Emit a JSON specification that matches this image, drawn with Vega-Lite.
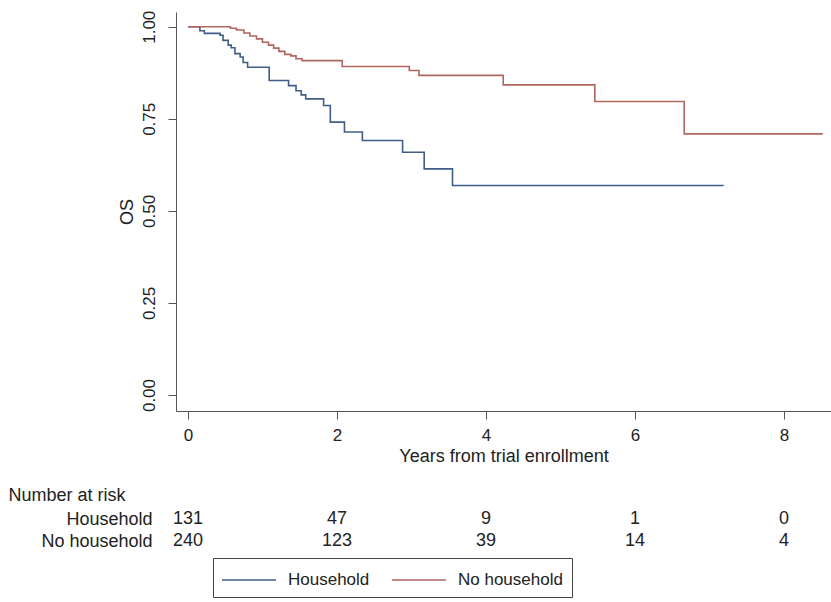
{
  "$schema": "https://vega.github.io/schema/vega-lite/v6.json",
  "background": "white",
  "padding": {"left": 8, "top": 10, "right": 0, "bottom": 0},
  "bounds": "flush",
  "spacing": 97,
  "config": {"font": "Liberation Sans", "view": {"stroke": null}},
  "resolve": {"scale": {"x": "independent", "y": "independent"}},
  "datasets": {
    "km": [
      {"group": "Household", "t": 0, "s": 1.0},
      {"group": "Household", "t": 0.16, "s": 0.989},
      {"group": "Household", "t": 0.22, "s": 0.982},
      {"group": "Household", "t": 0.43, "s": 0.977},
      {"group": "Household", "t": 0.47, "s": 0.963},
      {"group": "Household", "t": 0.54, "s": 0.95},
      {"group": "Household", "t": 0.58, "s": 0.943},
      {"group": "Household", "t": 0.63, "s": 0.927},
      {"group": "Household", "t": 0.7, "s": 0.918},
      {"group": "Household", "t": 0.74, "s": 0.903},
      {"group": "Household", "t": 0.8, "s": 0.89},
      {"group": "Household", "t": 1.09, "s": 0.854},
      {"group": "Household", "t": 1.35, "s": 0.84},
      {"group": "Household", "t": 1.45, "s": 0.826},
      {"group": "Household", "t": 1.52, "s": 0.815},
      {"group": "Household", "t": 1.58, "s": 0.804},
      {"group": "Household", "t": 1.82, "s": 0.786},
      {"group": "Household", "t": 1.91, "s": 0.741},
      {"group": "Household", "t": 2.1, "s": 0.714},
      {"group": "Household", "t": 2.34, "s": 0.691},
      {"group": "Household", "t": 2.88, "s": 0.659},
      {"group": "Household", "t": 3.17, "s": 0.614},
      {"group": "Household", "t": 3.55, "s": 0.569},
      {"group": "Household", "t": 7.19, "s": 0.569},
      {"group": "No household", "t": 0, "s": 1.0},
      {"group": "No household", "t": 0.57, "s": 0.996},
      {"group": "No household", "t": 0.65, "s": 0.991},
      {"group": "No household", "t": 0.75, "s": 0.983},
      {"group": "No household", "t": 0.83, "s": 0.975},
      {"group": "No household", "t": 0.92, "s": 0.967},
      {"group": "No household", "t": 1.0, "s": 0.958},
      {"group": "No household", "t": 1.08, "s": 0.95},
      {"group": "No household", "t": 1.15, "s": 0.942},
      {"group": "No household", "t": 1.22, "s": 0.933},
      {"group": "No household", "t": 1.3, "s": 0.925},
      {"group": "No household", "t": 1.38, "s": 0.921},
      {"group": "No household", "t": 1.45, "s": 0.913},
      {"group": "No household", "t": 1.53, "s": 0.908},
      {"group": "No household", "t": 2.07, "s": 0.892},
      {"group": "No household", "t": 2.97, "s": 0.881},
      {"group": "No household", "t": 3.1, "s": 0.868},
      {"group": "No household", "t": 4.23, "s": 0.842},
      {"group": "No household", "t": 5.46, "s": 0.797},
      {"group": "No household", "t": 6.66, "s": 0.709},
      {"group": "No household", "t": 8.52, "s": 0.709}
    ],
    "risk": [
      {"group": "Household", "t": 0, "n": 131},
      {"group": "Household", "t": 2, "n": 47},
      {"group": "Household", "t": 4, "n": 9},
      {"group": "Household", "t": 6, "n": 1},
      {"group": "Household", "t": 8, "n": 0},
      {"group": "No household", "t": 0, "n": 240},
      {"group": "No household", "t": 2, "n": 123},
      {"group": "No household", "t": 4, "n": 39},
      {"group": "No household", "t": 6, "n": 14},
      {"group": "No household", "t": 8, "n": 4}
    ]
  },
  "vconcat": [
    {
      "width": 655,
      "height": 399,
      "data": {"name": "km"},
      "mark": {"type": "line", "interpolate": "step-after", "strokeWidth": 1.6},
      "encoding": {
        "x": {
          "field": "t", "type": "quantitative",
          "scale": {"domain": [-0.161, 8.63], "nice": false, "zero": false},
          "axis": {"values": [0, 2, 4, 6, 8], "title": "Years from trial enrollment", "grid": false,
                   "domainColor": "#555", "tickColor": "#555", "tickSize": 8, "labelPadding": 8,
                   "labelFontSize": 17, "labelColor": "#222", "titleFontSize": 18, "titleFontWeight": "normal",
                   "titleColor": "#222", "titlePadding": 4}
        },
        "y": {
          "field": "s", "type": "quantitative",
          "scale": {"domain": [-0.0434, 1.04], "nice": false, "zero": false},
          "axis": {"values": [0, 0.25, 0.5, 0.75, 1], "format": ".2f", "title": "OS", "grid": false,
                   "domainColor": "#555", "tickColor": "#555", "tickSize": 8, "labelPadding": 10,
                   "labelAngle": 270, "labelAlign": "center", "labelBaseline": "bottom",
                   "labelFontSize": 17, "labelColor": "#222", "titleFontSize": 18, "titleFontWeight": "normal",
                   "titleColor": "#222", "titlePadding": 4}
        },
        "color": {
          "field": "group", "type": "nominal",
          "scale": {"domain": ["Household", "No household"], "range": ["#3f5d86", "#b06560"]},
          "legend": {"title": null, "orient": "none", "legendX": 37, "legendY": 546, "direction": "horizontal",
                     "symbolType": "M-2.25,0H2.25", "symbolSize": 576, "symbolStrokeWidth": 1.6,
                     "symbolOffset": 14, "labelOffset": 26,
                     "labelFontSize": 17, "labelColor": "#222", "strokeColor": "#444", "padding": 9,
                     "columnPadding": 18}
        }
      }
    },
    {
      "width": 655,
      "height": 44,
      "data": {"name": "risk"},
      "mark": {"type": "text", "fontSize": 18, "color": "#222"},
      "encoding": {
        "x": {"field": "t", "type": "quantitative", "scale": {"domain": [-0.161, 8.63], "nice": false, "zero": false}, "axis": null},
        "y": {"field": "group", "type": "nominal", "scale": {"domain": ["Household", "No household"]},
              "axis": {"domain": false, "ticks": false, "labelPadding": 24, "labelFontSize": 18, "labelColor": "#222",
                       "title": "Number at risk", "titleAngle": 0, "titleAlign": "left", "titleX": -168, "titleY": -13,
                       "titleBaseline": "middle", "titleFontWeight": "normal", "titleFontSize": 18, "titleColor": "#222"}},
        "text": {"field": "n", "type": "quantitative"}
      }
    }
  ]
}
